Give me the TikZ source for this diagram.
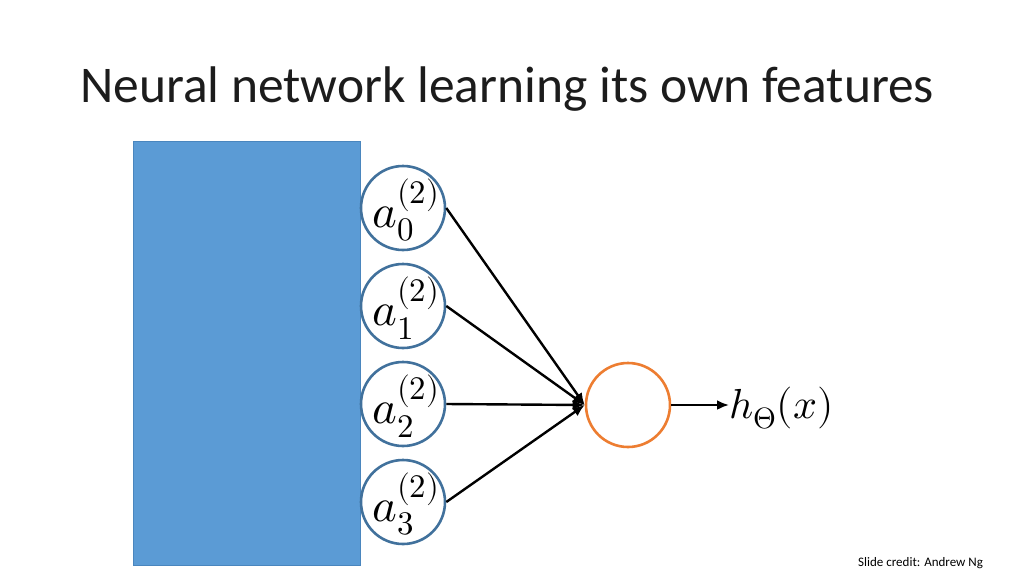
\documentclass[tikz,border=0pt]{standalone}
\usepackage{fontspec}
\usepackage{unicode-math}
\setmainfont{Carlito}
\setmathfont{Latin Modern Math}
\usetikzlibrary{arrows.meta}
\definecolor{rectblue}{HTML}{5B9BD5}
\definecolor{rectedge}{HTML}{4A86BE}
\definecolor{circblue}{HTML}{41719C}
\definecolor{circorange}{HTML}{ED7D31}
\definecolor{titlegray}{HTML}{1C1C1C}
\tikzset{
  unit/.style={circle, draw=circblue, line width=2.6pt, fill=white, minimum size=84pt, inner sep=0pt},
  outunit/.style={circle, draw=circorange, line width=2.6pt, fill=white, minimum size=84pt, inner sep=0pt},
  conn/.style={line width=2.4pt, -{Latex[length=12pt,width=10pt]}},
  lbl/.style={font=\fontsize{42}{50}\selectfont},
  albl/.style={font=\fontsize{47}{55}\selectfont},
}
\begin{document}
\begin{tikzpicture}[x=1pt,y=-1pt]
\useasboundingbox (0,0) rectangle (1024,576);
\node[anchor=base west, text=titlegray, font=\fontsize{51.5}{60}\selectfont, inner sep=0pt] (title) at (80,102) {Neural network learning its own features};
\node[draw=rectedge, fill=rectblue, line width=1pt, minimum width=227pt, minimum height=424pt, inner sep=0pt, anchor=north west] (rect) at (133,141) {};
\node[unit] (a0) at (403,208) {};
\node[unit] (a1) at (403,306) {};
\node[unit] (a2) at (403,404) {};
\node[unit] (a3) at (403,502) {};
\foreach \i/\y in {0/208,1/306,2/404,3/502}{
  \node[albl, inner sep=0pt] (l\i) at (406,\y+2) {$a_{\i}^{(2)}$};
}
\node[outunit] (o) at (628,405) {};
\draw[conn] (a0.east) -- (o.west);
\draw[conn] (a1.east) -- (o.west);
\draw[conn] (a2.east) -- (o.west);
\draw[conn] (a3.east) -- (o.west);
\node[lbl, anchor=base west, inner sep=0pt] (h) at (729,418) {$h_{\Theta}(x)$};
\draw[conn] (o.east) -- (h.west |- o.east);
\node[anchor=base west, font=\fontsize{13}{15}\selectfont, inner sep=0pt] (credit) at (858,566) {Slide credit: Andrew Ng};
\end{tikzpicture}
\end{document}
